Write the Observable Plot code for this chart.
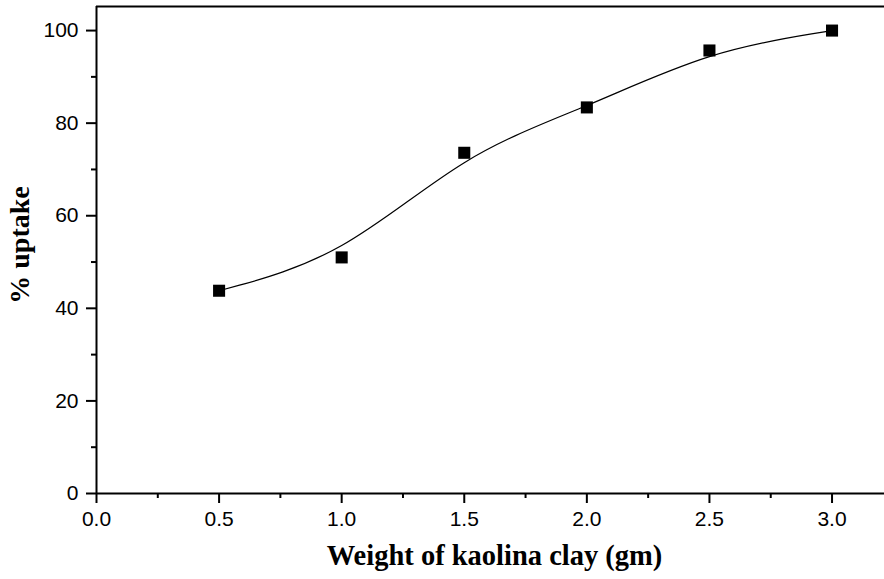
<!DOCTYPE html>
<html>
<head>
<meta charset="utf-8">
<script src="https://cdn.jsdelivr.net/npm/d3@7"></script>
<script src="https://cdn.jsdelivr.net/npm/@observablehq/plot@0.6"></script>
<style>
  html, body { margin: 0; padding: 0; background: #fff; }
  #chart svg { display: block; }
</style>
</head>
<body>
<div id="chart"></div>
<script>
const weights = [0.5, 1.0, 1.5, 2.0, 2.5, 3.0];
const uptake = [43.8, 51.0, 73.6, 83.4, 95.7, 100];
const xTicks = [0.0, 0.5, 1.0, 1.5, 2.0, 2.5, 3.0];
const xMinorTicks = [0.25, 0.75, 1.25, 1.75, 2.25, 2.75];
const yTicks = [0, 20, 40, 60, 80, 100];
const yMinorTicks = [10, 30, 50, 70, 90];
const xDomain = [0, 3.214];
const yDomain = [0, 105.2];
const xTitle = "Weight of kaolina clay (gm)";
const yTitle = "% uptake";

const data = weights.map((w, i) => ({w, u: uptake[i]}));

const sans = "'Liberation Sans', Arial, sans-serif";
const serif = "'Liberation Serif', 'Times New Roman', serif";

const chart = Plot.plot({
  width: 884,
  height: 579,
  marginLeft: 96,
  marginRight: 0,
  marginTop: 6,
  marginBottom: 86,
  style: {fontFamily: sans, background: "#fff", color: "#000"},
  x: {domain: xDomain},
  y: {domain: yDomain},
  marks: [
    Plot.axisX({ticks: xTicks, tickFormat: d3.format(".1f"), tickSize: 10, tickPadding: 8, fontSize: 21, strokeWidth: 2, label: null}),
    Plot.axisX({ticks: xMinorTicks, tickSize: 5, tickFormat: () => "", strokeWidth: 2, label: null}),
    Plot.axisY({ticks: yTicks, tickSize: 10, tickPadding: 8, fontSize: 21, strokeWidth: 2, label: null}),
    Plot.axisY({ticks: yMinorTicks, tickSize: 5, tickFormat: () => "", strokeWidth: 2, label: null}),
    Plot.ruleX([xDomain[0]], {strokeWidth: 2}),
    Plot.ruleY([yDomain[0]], {strokeWidth: 2}),
    Plot.ruleY([yDomain[1]], {strokeWidth: 2}),
    Plot.line(data, {x: "w", y: "u", curve: "basis", stroke: "#000", strokeWidth: 1.2}),
    Plot.dot(data, {x: "w", y: "u", symbol: "square", r: 6.8, fill: "#000", stroke: "none"}),
    Plot.text([xTitle], {frameAnchor: "bottom", textAnchor: "middle", dy: 71, dx: 4, fontFamily: serif, fontWeight: "bold", fontSize: 28.5, fill: "#000"}),
    Plot.text([yTitle], {frameAnchor: "left", textAnchor: "middle", dx: -76, dy: -5, rotate: -90, fontFamily: serif, fontWeight: "bold", fontSize: 28, fill: "#000"})
  ]
});
document.getElementById("chart").appendChild(chart);
</script>
</body>
</html>
